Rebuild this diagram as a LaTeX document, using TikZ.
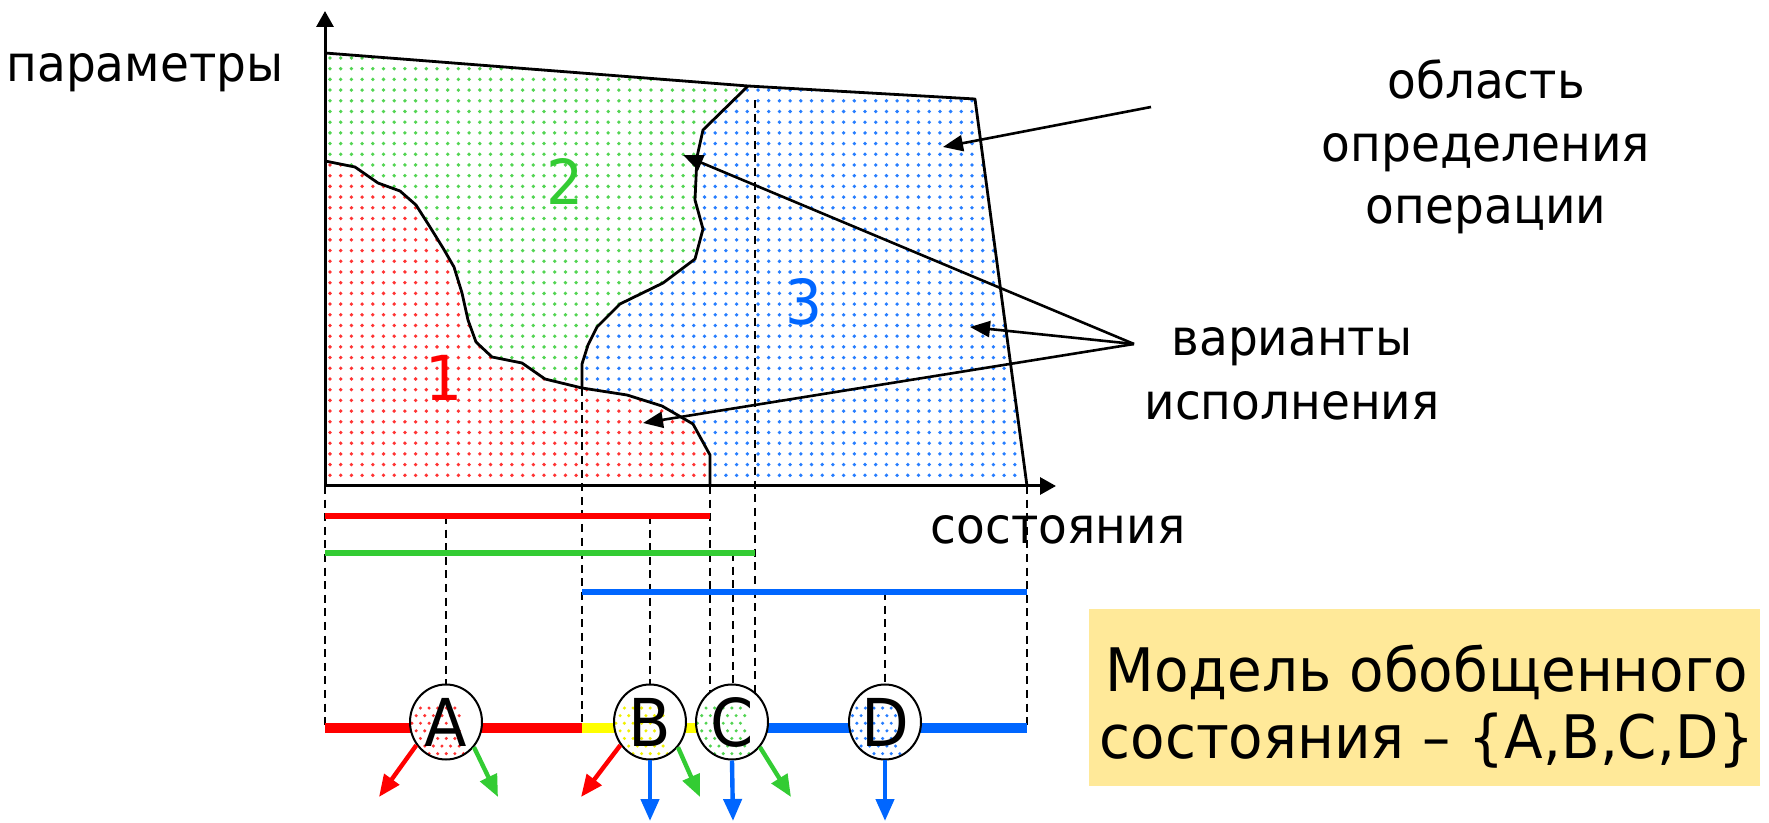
\documentclass[tikz,border=0pt]{standalone}
\usepackage{fontspec}
\setmainfont{DejaVu Sans}[FakeStretch=0.94]
\usetikzlibrary{arrows.meta,shapes.geometric}

\definecolor{cred}{RGB}{255,0,0}
\definecolor{cgreen}{RGB}{51,204,51}
\definecolor{cblue}{RGB}{0,102,255}
\definecolor{cyellow}{RGB}{255,255,0}
\definecolor{notebg}{RGB}{255,233,153}

% a grid of dots over index ranges i=#2..#3, j=#4..#5 in colour #1
\newcommand{\dotgrid}[5]{%
  \foreach \i in {#2,...,#3}{%
    \foreach \j in {#4,...,#5}{%
      \fill[#1] ({330+10.7*\i},{58+10.7*\j}) circle[radius=0.95pt];
    }}}

\begin{document}
\begin{tikzpicture}[x=0.5pt,y=-0.5pt,
  lbl/.style={font=\fontsize{25}{30}\selectfont, inner sep=0pt},
  digit/.style={font=\fontsize{31}{36}\selectfont, inner sep=0pt},
  notetxt/.style={font=\fontsize{30}{34}\selectfont, inner sep=0pt},
  border/.style={line width=1.4pt, line join=round},
  axis/.style={line width=1.5pt, -{Triangle[length=8pt,width=8.5pt]}},
  guide/.style={line width=1.1pt, dash pattern=on 4pt off 2.8pt},
  span/.style={line width=2.6pt},
  bar/.style={line width=5pt},
  state/.style={ellipse, draw, line width=1pt, fill=white, minimum width=36pt,
    minimum height=37.5pt, inner sep=0pt, font=\fontsize{33}{36}\selectfont},
  statedots/.style={path picture={
      \foreach \i in {-4,...,4}{\foreach \j in {-5,...,5}{
        \fill[#1, shift={(path picture bounding box.center)}]
          ({8.6*\i+4.3*mod(\j,2)},{7.6*\j}) circle[radius=0.85pt];}}}},
  exit/.style={line width=2.2pt, -{Triangle[length=11pt,width=9pt]}},
  pointer/.style={line width=1.3pt, -{Triangle[length=10pt,width=8pt]}},
  notebox/.style={fill=notebg, minimum width=335.5pt, minimum height=88.5pt, inner sep=0pt}
]
\useasboundingbox (0,0) rectangle (1769,823);

% ---- dotted areas of the three variants ----
\begin{scope}
  \clip (325,161) -- (355,167) -- (378,183) -- (400,191) -- (416,205) -- (430,227)
    -- (443,248) -- (454,267) -- (462,293) -- (468,320) -- (476,342) -- (492,357)
    -- (522,363) -- (545,379) -- (582,388) -- (627,395) -- (662,406) -- (693,424)
    -- (710,455) -- (710,486) -- (325,486) -- cycle;
  \dotgrid{cred!80}{0}{36}{9}{40}
\end{scope}
\begin{scope}
  \clip (325,53) -- (748,86) -- (703,130) -- (697,157) -- (695,200) -- (703,229)
    -- (695,259) -- (663,283) -- (620,304) -- (597,327) -- (588,345) -- (582,364)
    -- (582,388) -- (545,379) -- (522,363) -- (492,357) -- (476,342) -- (468,320)
    -- (462,293) -- (454,267) -- (443,248) -- (430,227) -- (416,205) -- (400,191)
    -- (378,183) -- (355,167) -- (325,161) -- cycle;
  \dotgrid{cgreen!85}{0}{40}{0}{31}
\end{scope}
\begin{scope}
  \clip (748,86) -- (975,99) -- (1027,486) -- (710,486) -- (710,455) -- (693,424)
    -- (662,406) -- (627,395) -- (582,388) -- (582,364) -- (588,345) -- (597,327)
    -- (620,304) -- (663,283) -- (695,259) -- (703,229) -- (695,200) -- (697,157)
    -- (703,130) -- cycle;
  \dotgrid{cblue!85}{23}{66}{2}{40}
\end{scope}

% ---- variant numbers ----
\node[digit, text=cred]   (n1) at (444,378) {1};
\node[digit, text=cgreen] (n2) at (565,181) {2};
\node[digit, text=cblue]  (n3) at (804,302) {3};

% ---- guide lines from the state axis ----
\draw[guide] (325,486) -- (325,728);
\draw[guide] (446,516) -- (446,722);
\draw[guide] (582,388) -- (582,728);
\draw[guide] (650,516) -- (650,722);
\draw[guide] (710,486) -- (710,728);
\draw[guide] (733,553) -- (733,722);
\draw[guide] (755,100) -- (755,728);
\draw[guide] (885,592) -- (885,722);
\draw[guide] (1027,486) -- (1027,728);

% ---- boundaries ----
\draw[border] (325,53) -- (748,86) -- (975,99) -- (1027,486);
\draw[border]
  (325,161) -- (355,167) -- (378,183) -- (400,191) -- (416,205) -- (430,227)
  -- (443,248) -- (454,267) -- (462,293) -- (468,320) -- (476,342) -- (492,357)
  -- (522,363) -- (545,379) -- (582,388) -- (627,395) -- (662,406) -- (693,424)
  -- (710,455) -- (710,486);
\draw[border]
  (748,86) -- (703,130) -- (697,157) -- (695,200) -- (703,229) -- (695,259)
  -- (663,283) -- (620,304) -- (597,327) -- (588,345) -- (582,364) -- (582,388);

% ---- axes ----
\coordinate (O) at (325,486);
\coordinate (ytip) at (325,11);
\coordinate (xtip) at (1056,486);
\draw[axis] (O) -- (ytip);
\draw[axis] (O) -- (xtip);
\node[lbl, anchor=base] (ylab) at (145,82) {параметры};
\node[lbl, anchor=base] (xlab) at (1058,544) {состояния};

% ---- ranges of the variants over the states ----
\draw[span, cred]   (325,516) -- (710,516);
\draw[span, cgreen] (325,553) -- (755,553);
\draw[span, cblue]  (582,592) -- (1027,592);

% ---- generalized state bar ----
\draw[bar, cred]    (325,728) -- (582,728);
\draw[bar, cyellow] (582,728) -- (733,728);
\draw[bar, cblue]   (733,728) -- (1027,728);

\node[state, statedots=cred!80]    (A) at (446,722) {A};
\node[state, statedots=cyellow!90!black!60!cyellow] (B) at (650,722) {B};
\node[state, statedots=cgreen!85]  (C) at (732,722) {C};
\node[state, statedots=cblue!85]   (D) at (885,722) {D};

% ---- exits of each state ----
\coordinate (Ar) at (379,797);
\coordinate (Ag) at (498,797);
\coordinate (Br) at (581,797);
\coordinate (Bb) at (650,821);
\coordinate (Bg) at (700,797);
\coordinate (Cb) at (733,821);
\coordinate (Cg) at (791,797);
\coordinate (Db) at (885,821);
\draw[exit, cred]   (A.218) -- (Ar);
\draw[exit, cgreen] (A.-42) -- (Ag);
\draw[exit, cred]   (B.218) -- (Br);
\draw[exit, cblue]  (B.south) -- (Bb);
\draw[exit, cgreen] (B.-42) -- (Bg);
\draw[exit, cblue]  (C.south) -- (Cb);
\draw[exit, cgreen] (C.-42) -- (Cg);
\draw[exit, cblue]  (D.south) -- (Db);

% ---- annotations ----
\node[lbl, anchor=base] (obl1) at (1486,99)  {область};
\node[lbl, anchor=base] (obl2) at (1486,162) {определения};
\node[lbl, anchor=base] (obl3) at (1486,224) {операции};
\node[lbl, anchor=base] (var1) at (1292,356) {варианты};
\node[lbl, anchor=base] (var2) at (1292,420) {исполнения};

\coordinate (oblfrom) at (1151,107);
\coordinate (oblto) at (943,147);
\draw[pointer] (oblfrom) -- (oblto);

\coordinate (varfrom) at (1134,344);
\coordinate (var2to) at (683,155);
\coordinate (var3to) at (970,327);
\coordinate (var1to) at (643,423);
\draw[pointer] (varfrom) -- (var2to);
\draw[pointer] (varfrom) -- (var3to);
\draw[pointer] (varfrom) -- (var1to);

% ---- model note ----
\node[notebox] (note) at (1424.5,697.5) {};
\node[notetxt, anchor=base] (note1) at (1427,692) {Модель обобщенного};
\node[notetxt, anchor=base] (note2) at (1427,758) {состояния – \{A,B,C,D\}};
\end{tikzpicture}
\end{document}
